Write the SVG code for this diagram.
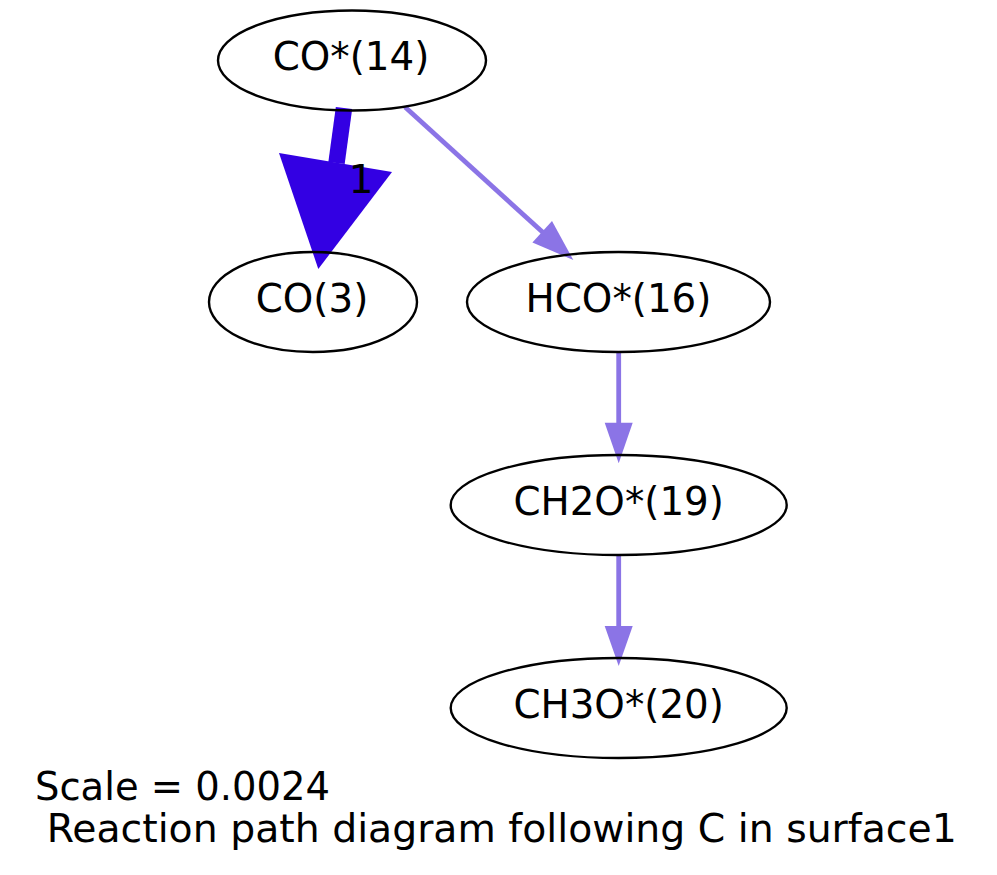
<svg xmlns="http://www.w3.org/2000/svg" width="997" height="875" viewBox="0 0 997 875">
<style>
  text { font-family: "DejaVu Sans", "Liberation Sans", sans-serif; font-size: 38.8px; fill: #000; }
  .node ellipse { fill: none; stroke: #000; stroke-width: 2.4; }
  .node text { text-anchor: middle; }
  .thin { stroke: #8b74e6; stroke-width: 4.8; fill: none; }
  .thinhead { fill: #8b74e6; stroke: none; }
  .bold { stroke: #3300e3; stroke-width: 16.5; fill: none; }
  .boldhead { fill: #3300e3; stroke: none; }
</style>
<rect width="997" height="875" fill="#fff"/>
<g id="edges">
  <line class="bold" x1="344" y1="108" x2="336.5" y2="163"/>
  <polygon class="boldhead" points="279,153 392,172 318.3,269"/>
  <text x="361" y="193" text-anchor="middle">1</text>
  <line class="thin" x1="405" y1="107" x2="543" y2="232.5"/>
  <polygon class="thinhead" points="532.4,242.4 552,221 573.3,260"/>
  <line class="thin" x1="618.7" y1="352" x2="618.7" y2="424"/>
  <polygon class="thinhead" points="604.7,422.7 632.7,422.7 618.7,463.3"/>
  <line class="thin" x1="618.7" y1="555" x2="618.7" y2="627"/>
  <polygon class="thinhead" points="604.7,626 632.7,626 618.7,666"/>
</g>
<g id="node-CO14" class="node">
  <ellipse cx="352" cy="60.5" rx="134" ry="50"/>
  <text x="351" y="70">CO*(14)</text>
</g>
<g id="node-CO3" class="node">
  <ellipse cx="313" cy="302" rx="104" ry="50"/>
  <text x="312" y="312">CO(3)</text>
</g>
<g id="node-HCO16" class="node">
  <ellipse cx="618.5" cy="302" rx="151.5" ry="50"/>
  <text x="618.5" y="312">HCO*(16)</text>
</g>
<g id="node-CH2O19" class="node">
  <ellipse cx="618.7" cy="505" rx="168" ry="50"/>
  <text x="618.7" y="515">CH2O*(19)</text>
</g>
<g id="node-CH3O20" class="node">
  <ellipse cx="618.7" cy="708" rx="168" ry="50"/>
  <text x="618.7" y="718">CH3O*(20)</text>
</g>
<g id="caption">
  <text x="35" y="800" textLength="295" lengthAdjust="spacingAndGlyphs">Scale = 0.0024</text>
  <text x="46.7" y="841.7" textLength="910" lengthAdjust="spacingAndGlyphs">Reaction path diagram following C in surface1</text>
</g>
</svg>
